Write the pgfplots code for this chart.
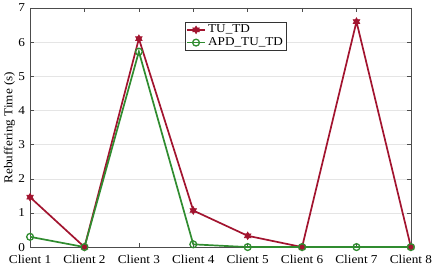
\documentclass[border=0pt]{standalone}
\usepackage{fontspec}
\setmainfont[FakeStretch=1.1]{Liberation Serif}
\usepackage{pgfplots}
\pgfplotsset{compat=1.18}
\definecolor{cred}{RGB}{162,20,47}
\definecolor{cgreen}{RGB}{48,140,48}
\pgfdeclareplotmark{hexagram}{%
  \pgfpathmoveto{\pgfqpoint{0pt}{\pgfplotmarksize}}%
  \pgfpathlineto{\pgfqpoint{-0.866\pgfplotmarksize}{-0.5\pgfplotmarksize}}%
  \pgfpathlineto{\pgfqpoint{0.866\pgfplotmarksize}{-0.5\pgfplotmarksize}}%
  \pgfpathclose
  \pgfpathmoveto{\pgfqpoint{0pt}{-\pgfplotmarksize}}%
  \pgfpathlineto{\pgfqpoint{0.866\pgfplotmarksize}{0.5\pgfplotmarksize}}%
  \pgfpathlineto{\pgfqpoint{-0.866\pgfplotmarksize}{0.5\pgfplotmarksize}}%
  \pgfpathclose
  \pgfusepathqfillstroke}
\begin{document}
\fontsize{12}{14}\selectfont
\begin{tikzpicture}
\begin{axis}[
  scale only axis,
  width=379bp, height=238bp,
  xmin=0, xmax=7, ymin=0, ymax=7,
  xtick={0,...,7},
  xticklabels={Client 1,Client 2,Client 3,Client 4,Client 5,Client 6,Client 7,Client 8},
  ytick={0,...,7},
  /pgf/number format/assume math mode=true,
  tick label style={font=\fontsize{12}{14}\selectfont},
  label style={font=\fontsize{12}{14}\selectfont},
  ylabel={Rebuffering Time (s)},
  ylabel style={yshift=-5pt},
  tick align=inside,
  major tick length=4pt,
  tick style={color=black!70, line width=0.5pt},
  axis line style={color=black!70, line width=0.6pt},
  ymajorgrids,
  grid style={color=black!10, line width=0.5pt},
  xticklabel style={yshift=-3.5pt},
  yticklabel style={xshift=-1pt},
  legend style={at={(0.406,0.942)}, anchor=north west, draw=black!80, line width=0.5pt,
    font=\fontsize{12}{14}\selectfont, inner sep=1pt, row sep=-1pt},
  legend cell align=left,
  legend image code/.code={\draw[#1] (0cm,0cm) -- (0.65cm,0cm); \draw[#1, mark repeat=1] plot coordinates {(0.325cm,0cm)};},
]
\addplot[cred, line width=1.7pt, mark=hexagram, mark size=3.8pt, mark options={fill=cred, line width=0.6pt}]
  coordinates {(0,1.46) (1,0) (2,6.1) (3,1.07) (4,0.33) (5,0) (6,6.6) (7,0)};
\addlegendentry{TU\_TD}
\addplot[cgreen, line width=1.7pt, mark=o, mark size=3.4pt, mark options={line width=1.3pt}]
  coordinates {(0,0.3) (1,0) (2,5.72) (3,0.08) (4,0) (5,0) (6,0) (7,0)};
\addlegendentry{APD\_TU\_TD}
\end{axis}
\end{tikzpicture}
\end{document}
